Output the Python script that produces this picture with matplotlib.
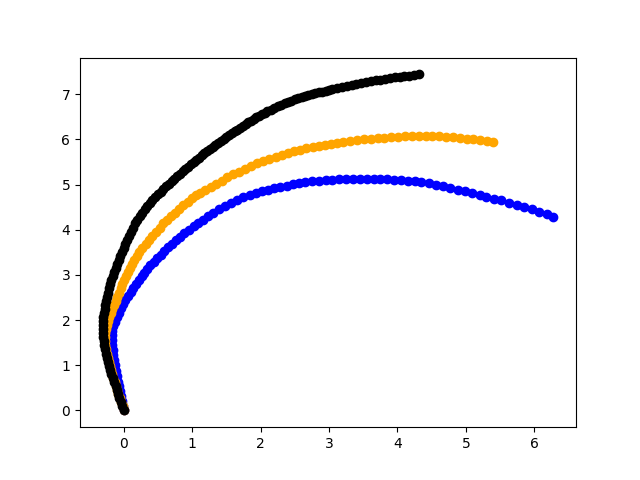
import matplotlib
matplotlib.use('Agg')
import matplotlib.pyplot as plt

# blue path
blue_x = [0.00, -0.01, -0.03, -0.04, -0.06, -0.07, -0.09, -0.10, -0.12, -0.13,
          -0.14, -0.15, -0.16, -0.17, -0.175, -0.17, -0.165, -0.15, -0.13, -0.10,
          -0.07, -0.04, -0.01, 0.025, 0.06, 0.10, 0.14, 0.18, 0.22, 0.26,
          0.30, 0.345, 0.39, 0.44, 0.49, 0.54, 0.59, 0.645, 0.70, 0.76,
          0.82, 0.88, 0.95, 1.02, 1.09, 1.155, 1.23, 1.31, 1.39, 1.48,
          1.57, 1.66, 1.75, 1.84, 1.93, 2.02, 2.11, 2.20, 2.29, 2.38,
          2.47, 2.56, 2.65, 2.75, 2.85, 2.95, 3.05, 3.15, 3.25, 3.35,
          3.45, 3.55, 3.65, 3.75, 3.85, 3.95, 4.05, 4.15, 4.25, 4.35,
          4.46, 4.56, 4.67, 4.77, 4.88, 4.98, 5.09, 5.20, 5.30, 5.41,
          5.52, 5.63, 5.74, 5.85, 5.96, 6.07, 6.18, 6.28]
blue_y = [0.00, 0.10, 0.20, 0.31, 0.42, 0.53, 0.64, 0.76, 0.88, 1.00,
          1.11, 1.22, 1.33, 1.44, 1.55, 1.66, 1.76, 1.86, 1.96, 2.06,
          2.16, 2.26, 2.35, 2.44, 2.53, 2.62, 2.71, 2.80, 2.89, 2.97,
          3.05, 3.13, 3.21, 3.29, 3.37, 3.45, 3.53, 3.61, 3.69, 3.77,
          3.85, 3.93, 4.00, 4.08, 4.15, 4.22, 4.30, 4.38, 4.46, 4.53,
          4.60, 4.67, 4.73, 4.77, 4.81, 4.85, 4.89, 4.92, 4.95, 4.98,
          5.01, 5.03, 5.05, 5.07, 5.08, 5.10, 5.11, 5.12, 5.12, 5.13,
          5.13, 5.13, 5.13, 5.12, 5.12, 5.11, 5.10, 5.09, 5.07, 5.05,
          5.03, 5.00, 4.97, 4.93, 4.89, 4.86, 4.82, 4.77, 4.73, 4.69,
          4.65, 4.60, 4.55, 4.50, 4.45, 4.39, 4.34, 4.29]

# orange path
orange_x = [0.00, -0.015, -0.04, -0.06, -0.08, -0.095, -0.115, -0.135, -0.155, -0.17,
            -0.185, -0.20, -0.22, -0.235, -0.25, -0.26, -0.27, -0.275, -0.28, -0.275,
            -0.265, -0.25, -0.23, -0.21, -0.19, -0.165, -0.145, -0.12, -0.095, -0.07,
            -0.045, -0.02, 0.005, 0.03, 0.06, 0.09, 0.12, 0.155, 0.19, 0.23,
            0.27, 0.32, 0.37, 0.42, 0.47, 0.525, 0.58, 0.635, 0.69, 0.75,
            0.81, 0.87, 0.935, 1.00, 1.06, 1.12, 1.19, 1.27, 1.35, 1.43,
            1.51, 1.59, 1.68, 1.77, 1.86, 1.95, 2.04, 2.13, 2.22, 2.31,
            2.40, 2.49, 2.58, 2.67, 2.76, 2.85, 2.94, 3.03, 3.12, 3.21,
            3.31, 3.41, 3.51, 3.61, 3.71, 3.81, 3.91, 4.01, 4.11, 4.21,
            4.31, 4.41, 4.51, 4.61, 4.71, 4.81, 4.91, 5.01, 5.11, 5.21,
            5.31, 5.40]
orange_y = [0.00, 0.09, 0.18, 0.27, 0.36, 0.45, 0.54, 0.63, 0.72, 0.81,
            0.90, 0.99, 1.08, 1.17, 1.26, 1.35, 1.44, 1.53, 1.62, 1.71,
            1.80, 1.89, 1.98, 2.07, 2.16, 2.25, 2.34, 2.43, 2.52, 2.61,
            2.70, 2.79, 2.88, 2.97, 3.06, 3.15, 3.24, 3.33, 3.42, 3.51,
            3.60, 3.69, 3.78, 3.87, 3.96, 4.05, 4.14, 4.22, 4.30, 4.38,
            4.46, 4.54, 4.62, 4.70, 4.76, 4.81, 4.87, 4.94, 5.02, 5.09,
            5.16, 5.23, 5.29, 5.35, 5.41, 5.47, 5.52, 5.57, 5.62, 5.66,
            5.70, 5.74, 5.77, 5.80, 5.83, 5.86, 5.88, 5.90, 5.92, 5.94,
            5.96, 5.98, 6.00, 6.02, 6.03, 6.04, 6.05, 6.06, 6.07, 6.07,
            6.08, 6.08, 6.07, 6.07, 6.06, 6.05, 6.04, 6.02, 6.00, 5.98,
            5.96, 5.94]

# black path
black_x = [0.00, -0.02, -0.045, -0.065, -0.085, -0.10, -0.12, -0.14, -0.16, -0.18,
           -0.195, -0.21, -0.23, -0.245, -0.26, -0.275, -0.285, -0.295, -0.30, -0.305,
           -0.31, -0.31, -0.305, -0.30, -0.29, -0.28, -0.27, -0.26, -0.245, -0.23,
           -0.215, -0.20, -0.18, -0.16, -0.14, -0.12, -0.10, -0.075, -0.05, -0.025,
           0.00, 0.025, 0.05, 0.08, 0.11, 0.14, 0.17,
           0.20, 0.235, 0.27, 0.305, 0.34, 0.38, 0.42,
           0.46, 0.50, 0.54, 0.58, 0.62, 0.66, 0.70, 0.74, 0.78, 0.82,
           0.86, 0.90, 0.94, 0.98, 1.02, 1.06, 1.10, 1.14, 1.18, 1.22,
           1.26, 1.30, 1.34, 1.38, 1.42, 1.46, 1.50, 1.54, 1.58, 1.62,
           1.66, 1.70, 1.74, 1.78, 1.82, 1.86, 1.90, 1.94, 1.98, 2.02,
           2.06, 2.10, 2.15, 2.20, 2.25, 2.30, 2.35, 2.40, 2.45, 2.50,
           2.55, 2.60, 2.65, 2.70, 2.75, 2.80, 2.85, 2.90, 2.95, 3.00,
           3.05, 3.12, 3.19, 3.26, 3.33, 3.40, 3.47, 3.54, 3.61, 3.68,
           3.75, 3.82, 3.89, 3.96, 4.03, 4.10, 4.17, 4.24, 4.31]
black_y = [0.00, 0.09, 0.18, 0.27, 0.36, 0.45, 0.54, 0.63, 0.72, 0.81,
           0.90, 0.99, 1.08, 1.17, 1.26, 1.35, 1.44, 1.53, 1.62, 1.71,
           1.80, 1.89, 1.98, 2.07, 2.16, 2.25, 2.34, 2.43, 2.52, 2.61,
           2.70, 2.79, 2.88, 2.97, 3.06, 3.15, 3.24, 3.33, 3.42, 3.51,
           3.60, 3.69, 3.78, 3.87, 3.96, 4.05, 4.14,
           4.22, 4.302, 4.381, 4.455, 4.524, 4.597, 4.663,
           4.724, 4.785, 4.844, 4.903, 4.961, 5.019, 5.075, 5.131, 5.186, 5.240,
           5.294, 5.346, 5.398, 5.449, 5.500, 5.549, 5.598, 5.646, 5.693, 5.740,
           5.786, 5.832, 5.877, 5.922, 5.966, 6.010, 6.053, 6.095, 6.137, 6.178,
           6.220, 6.260, 6.300, 6.339, 6.378, 6.415, 6.452, 6.488, 6.523, 6.558,
           6.591, 6.624, 6.663, 6.700, 6.736, 6.769, 6.801, 6.831, 6.860, 6.886,
           6.911, 6.934, 6.957, 6.979, 7.000, 7.021, 7.042, 7.062, 7.081, 7.100,
           7.119, 7.143, 7.166, 7.188, 7.210, 7.231, 7.251, 7.271, 7.290, 7.308,
           7.326, 7.343, 7.359, 7.374, 7.389, 7.403, 7.416, 7.429, 7.441]

fig, ax = plt.subplots(figsize=(6.4, 4.8), dpi=100)
ax.plot(blue_x, blue_y, 'o', color='blue')
ax.plot(orange_x, orange_y, 'o', color='orange')
ax.plot(black_x, black_y, 'o', color='black')

fig.savefig('out.png')
